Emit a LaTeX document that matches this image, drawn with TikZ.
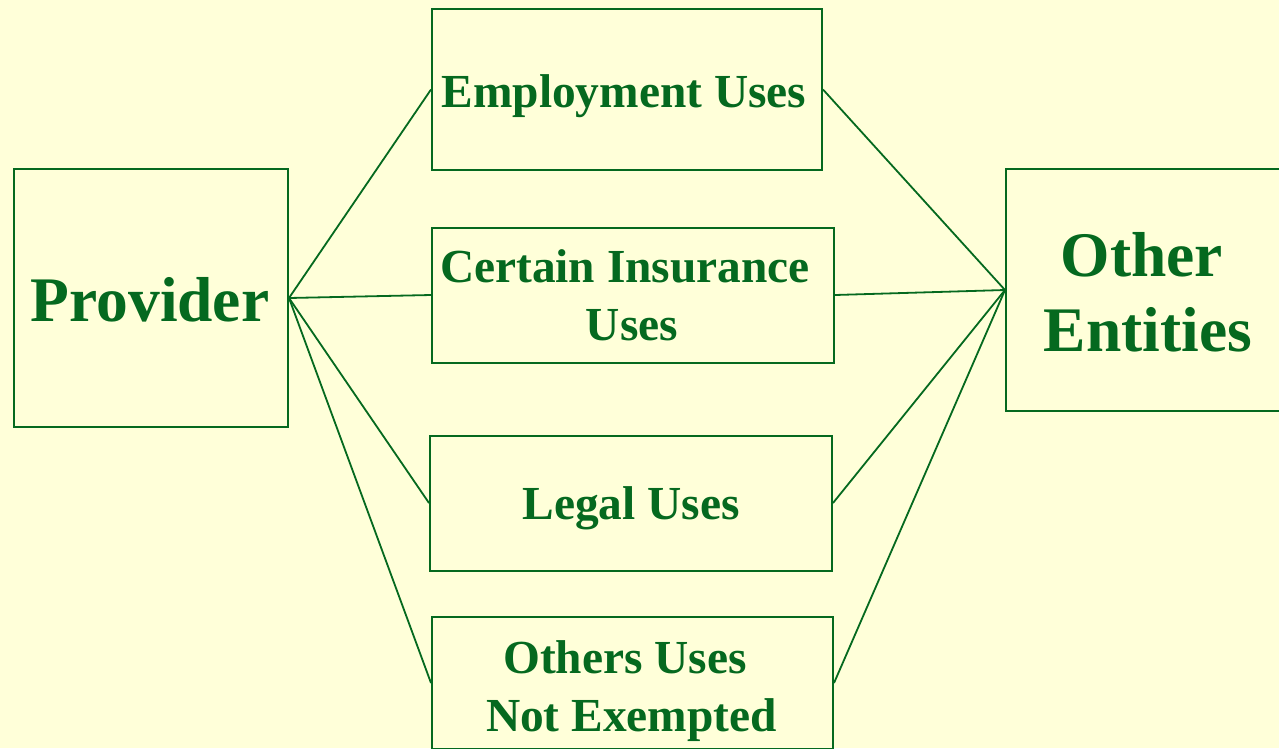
\documentclass[tikz,border=0pt]{standalone}
\usepackage{fontspec}
\setmainfont{Liberation Serif}
\definecolor{bgyellow}{HTML}{FFFFD9}
\definecolor{dgreen}{HTML}{05691F}
\begin{document}
\begin{tikzpicture}[x=1pt,y=-1pt,
  box/.style={draw=dgreen, line width=2pt, inner sep=0pt, rectangle},
  link/.style={draw=dgreen, line width=1.8pt},
  small/.style={text=dgreen, font=\fontsize{47.4}{58}\selectfont\bfseries, anchor=base, inner sep=0pt},
  big/.style={text=dgreen, font=\fontsize{63.5}{75}\selectfont\bfseries, anchor=base, inner sep=0pt}]
\fill[bgyellow] (0,0) rectangle (1279,748);
\useasboundingbox (0,0) rectangle (1279,748);
% boxes
\node[box, minimum width=274pt, minimum height=258pt] (prov) at (151,298) {};
\node[box, minimum width=390pt, minimum height=161pt] (emp) at (627,89.5) {};
\node[box, minimum width=402pt, minimum height=135pt] (ins) at (633,295) {};
\node[box, minimum width=402pt, minimum height=135pt] (leg) at (631,503) {};
\node[box, minimum width=401pt, minimum height=132pt] (oth) at (632.5,683) {};
\node[box, minimum width=280pt, minimum height=242pt] (ent) at (1146,290) {};
% texts
\node[big] (tprov) at (150,321.7) {Provider};
\node[small] (temp) at (624,107) {Employment Uses};
\node[small] (tins1) at (625,282.7) {Certain Insurance};
\node[small] (tins2) at (632,340.7) {Uses};
\node[small] (tleg) at (631,519) {Legal Uses};
\node[small] (toth1) at (625,673) {Others Uses};
\node[small] (toth2) at (631.5,731) {Not Exempted};
\node[big] (tent1) at (1142,276) {Other};
\node[big] (tent2) at (1148,351) {Entities};
% connectors
\foreach \n in {emp,ins,leg,oth}{
  \draw[link] (prov.east) -- (\n.west);
  \draw[link] (\n.east) -- (ent.west);
}
\end{tikzpicture}
\end{document}
